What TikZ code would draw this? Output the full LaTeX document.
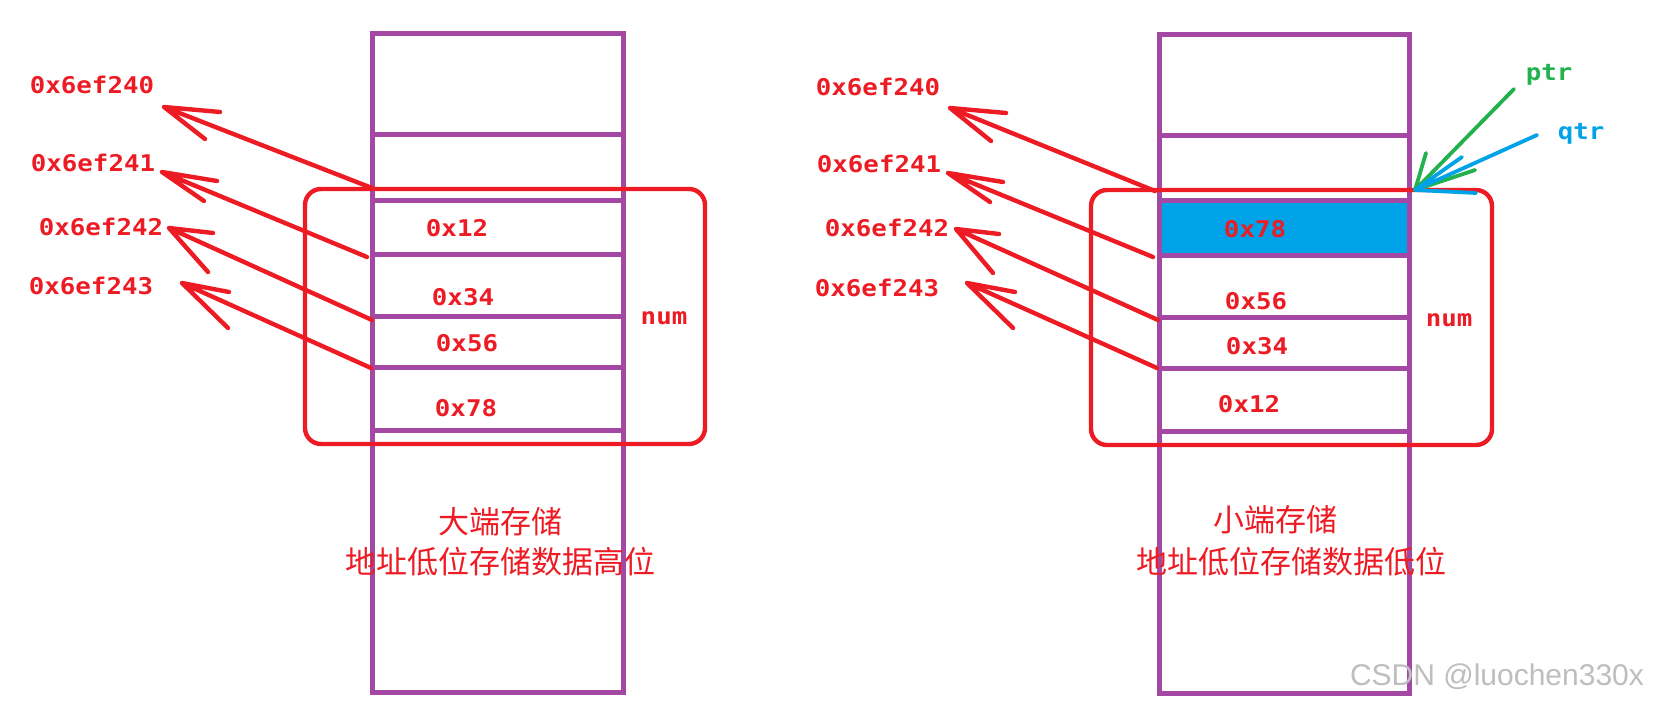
\documentclass[tikz,border=0pt]{standalone}
\usepackage{fontspec}
\newfontfamily\hexfont{DejaVu Sans Mono}[FakeStretch=1.12]
\newfontfamily\cjkfont{Noto Sans CJK SC}
\newfontfamily\markfont{Liberation Sans}

\definecolor{memred}{HTML}{ED1C24}
\definecolor{cellpurple}{HTML}{A349A4}
\definecolor{ptrgreen}{HTML}{22B14C}
\definecolor{qtrblue}{HTML}{00A2E8}
\definecolor{markgray}{HTML}{BEBEBE}

\tikzset{
  hex/.style={font=\hexfont\bfseries\fontsize{23}{23}\selectfont, text=memred, inner sep=0pt},
  cellline/.style={draw=cellpurple, line width=5pt},
  redline/.style={draw=memred, line width=4.4pt, line cap=round, line join=round},
  grouprect/.style={draw=memred, line width=4.4pt, rounded corners=16pt},
  caption/.style={font=\cjkfont\fontsize{31}{40}\selectfont, text=memred, inner sep=0pt},
  ptrline/.style={line width=3.8pt, line cap=round, line join=round},
}

\begin{document}
\begin{tikzpicture}[x=1pt, y=-1pt]
\useasboundingbox (0,0) rectangle (1655,706);
\fill[white] (0,0) rectangle (1655,706);

% ---------------- big-endian memory column ----------------
\draw[cellline] (372,34) rectangle (623,692);
\foreach \yy in {135,200,254,316,367,430}
  \draw[cellline] (372,\yy) -- (623,\yy);

\node[hex] (bv1) at (457,228) {0x12};
\node[hex] (bv2) at (463,297) {0x34};
\node[hex] (bv3) at (467,343) {0x56};
\node[hex] (bv4) at (466,408) {0x78};

\draw[grouprect] (305,189) rectangle (705,444);
\node[hex] (bnum) at (664,318) {num};

\node[hex] (ba0) at (92,85)  {0x6ef240};
\node[hex] (ba1) at (93,163) {0x6ef241};
\node[hex] (ba2) at (101,227) {0x6ef242};
\node[hex] (ba3) at (91,286) {0x6ef243};

\coordinate (bs0) at (372,188); \coordinate (bt0) at (164,107);
\coordinate (bs1) at (367,257); \coordinate (bt1) at (162,172);
\coordinate (bs2) at (372,320); \coordinate (bt2) at (169,228);
\coordinate (bs3) at (371,368); \coordinate (bt3) at (182,283);

\draw[redline] (bs0) -- (bt0) -- ++(56,5)  (bt0) -- ++(41,32);
\draw[redline] (bs1) -- (bt1) -- ++(55,9)  (bt1) -- ++(42,29);
\draw[redline] (bs2) -- (bt2) -- ++(44,5)  (bt2) -- ++(39,44);
\draw[redline] (bs3) -- (bt3) -- ++(47,9)  (bt3) -- ++(46,45);

\node[caption] (bcap1) at (500,522) {大端存储};
\node[caption] (bcap2) at (500,562) {地址低位存储数据高位};

% ---------------- little-endian memory column ----------------
\fill[qtrblue] (1159,200) rectangle (1409,255);
\draw[cellline] (1159,35) rectangle (1409,693);
\foreach \yy in {136,200,255,317,368,431}
  \draw[cellline] (1159,\yy) -- (1409,\yy);

\node[hex] (lv1) at (1255,229) {0x78};
\node[hex] (lv2) at (1256,301) {0x56};
\node[hex] (lv3) at (1257,346) {0x34};
\node[hex] (lv4) at (1249,404) {0x12};

\draw[grouprect] (1091,190) rectangle (1492,445);
\node[hex] (lnum) at (1449,320) {num};

\node[hex] (la0) at (878,87)  {0x6ef240};
\node[hex] (la1) at (879,164) {0x6ef241};
\node[hex] (la2) at (887,228) {0x6ef242};
\node[hex] (la3) at (877,288) {0x6ef243};

\coordinate (ls0) at (1155,191); \coordinate (lt0) at (950,108);
\coordinate (ls1) at (1153,257); \coordinate (lt1) at (948,173);
\coordinate (ls2) at (1158,320); \coordinate (lt2) at (956,229);
\coordinate (ls3) at (1157,368); \coordinate (lt3) at (967,283);

\draw[redline] (ls0) -- (lt0) -- ++(56,5)  (lt0) -- ++(41,33);
\draw[redline] (ls1) -- (lt1) -- ++(55,9)  (lt1) -- ++(42,29);
\draw[redline] (ls2) -- (lt2) -- ++(43,5)  (lt2) -- ++(37,44);
\draw[redline] (ls3) -- (lt3) -- ++(48,9)  (lt3) -- ++(46,45);

\node[caption] (lcap1) at (1275,520) {小端存储};
\node[caption] (lcap2) at (1291,562) {地址低位存储数据低位};

% ---------------- pointers ----------------
\node[hex, text=ptrgreen, anchor=base] (ptr) at (1549,81) {ptr};
\node[hex, text=qtrblue, anchor=base] (qtr) at (1581,140) {qtr};

\coordinate (pstart) at (1514,89);
\coordinate (qstart) at (1537,135);
\coordinate (addr) at (1415,190);

\draw[ptrline, ptrgreen] (pstart) -- (addr) -- ++(11,-37) (addr) -- ++(60,-20);
\draw[ptrline, qtrblue]  (qstart) -- (addr) -- ++(47,-33) (addr) -- ++(61,3);

% ---------------- watermark ----------------
\node[font=\markfont\fontsize{30}{30}\selectfont, text=markgray, inner sep=0pt] (mark) at (1497,677) {CSDN @luochen330x};
\end{tikzpicture}
\end{document}
